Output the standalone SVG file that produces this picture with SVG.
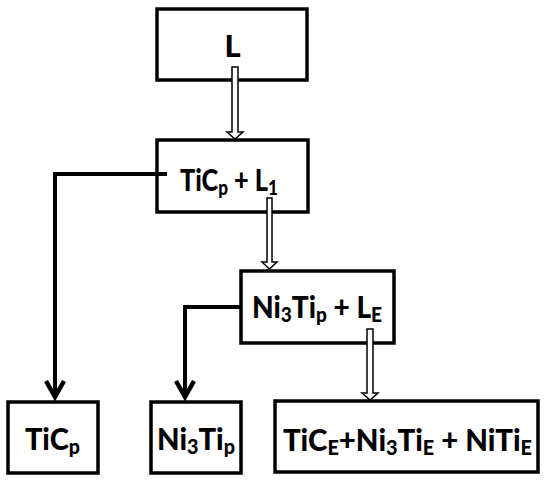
<svg xmlns="http://www.w3.org/2000/svg" width="550" height="483" viewBox="0 0 550 483">
<style>
.box{fill:#fff;stroke:#000;stroke-width:3.5}
.t{font-family:Lato,"Open Sans","Liberation Sans",sans-serif;font-weight:900;font-size:31px;fill:#000}
.s{font-size:21px}
.hollow{fill:#fff;stroke:#000;stroke-width:1.5;stroke-linejoin:miter}
.thick{fill:none;stroke:#000;stroke-width:4}
.head{fill:none;stroke:#000;stroke-width:4.5;stroke-linecap:butt;stroke-linejoin:miter}
</style>
<rect width="550" height="483" fill="#fff"/>
<g id="node-L"><rect class="box" x="157" y="9" width="150" height="71"/><text class="t" x="232.5" y="57" text-anchor="middle">L</text></g>
<g id="node-TiC-L1"><rect class="box" x="157" y="140" width="151" height="72"/><text class="t" x="180" y="191" textLength="98" lengthAdjust="spacingAndGlyphs">TiC<tspan class="s" dy="4">p</tspan><tspan dy="-4"> + L</tspan><tspan class="s" dy="4">1</tspan></text></g>
<g id="node-Ni3Ti-LE"><rect class="box" x="241" y="271" width="153" height="72"/><text class="t" x="252" y="318" textLength="130" lengthAdjust="spacingAndGlyphs">Ni<tspan class="s" dy="4">3</tspan><tspan dy="-4">Ti</tspan><tspan class="s" dy="4">p</tspan><tspan dy="-4"> + L</tspan><tspan class="s" dy="4">E</tspan></text></g>
<g id="node-TiCp"><rect class="box" x="8" y="402" width="90" height="71"/><text class="t" x="25" y="450" textLength="55" lengthAdjust="spacingAndGlyphs">TiC<tspan class="s" dy="4">p</tspan></text></g>
<g id="node-Ni3Tip"><rect class="box" x="151" y="402" width="90" height="71"/><text class="t" x="157" y="450" textLength="78" lengthAdjust="spacingAndGlyphs">Ni<tspan class="s" dy="4">3</tspan><tspan dy="-4">Ti</tspan><tspan class="s" dy="4">p</tspan></text></g>
<g id="node-eutectic"><rect class="box" x="275" y="401" width="263" height="71"/><text class="t" x="283" y="451" textLength="249" lengthAdjust="spacingAndGlyphs">TiC<tspan class="s" dy="4">E</tspan><tspan dy="-4">+Ni</tspan><tspan class="s" dy="4">3</tspan><tspan dy="-4">Ti</tspan><tspan class="s" dy="4">E</tspan><tspan dy="-4"> + NiTi</tspan><tspan class="s" dy="4">E</tspan></text></g>
<g id="connectors">
<polygon class="hollow" points="232,67 238,67 238,132 243,132 235,139 227,132 232,132"/>
<polygon class="hollow" points="267,198 272,198 272,262 277,262 269.5,269 262,262 267,262"/>
<polygon class="hollow" points="367,329 373,329 373,393 378,393 370,400 362,393 367,393"/>
<path class="thick" d="M167,174 H55 V396"/>
<polyline class="head" points="46,381 55,397 64,381"/>
<path class="thick" d="M242,307 H185 V396"/>
<polyline class="head" points="176,381 185,397 194,381"/>
</g>
</svg>
